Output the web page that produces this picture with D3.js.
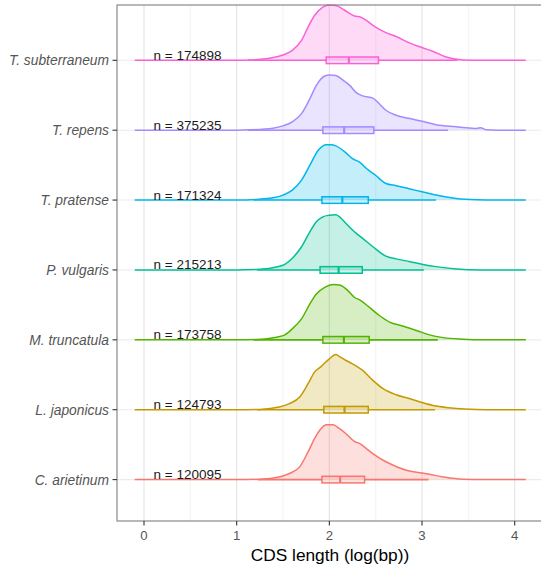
<!DOCTYPE html>
<html><head><meta charset="utf-8">
<script src="https://cdn.jsdelivr.net/npm/d3@7"></script>
<style>body{margin:0;background:#fff;} svg{display:block;}</style>
</head><body>
<div id="chart"></div>
<script>
// ---- data ----
const categories = ["C. arietinum","L. japonicus","M. truncatula","P. vulgaris","T. pratense","T. repens","T. subterraneum"];
const colors = ["#F8766D","#C49A00","#53B400","#00C094","#00B6EB","#A58AFF","#FB61D7"];
const counts = ["120095","124793","173758","215213","171324","375235","174898"];
const xTicks = [0,1,2,3,4];
const xMinor = [0.5,1.5,2.5,3.5];
const densityRange = [-0.1, 4.12];

// density: [log10 length, relative height]
const densCArietinum = [[1.0,0],[1.25,0.006],[1.46,0.048],[1.57,0.11],[1.68,0.23],[1.77,0.50],[1.84,0.74],[1.91,0.92],[1.97,0.99],[2.04,0.99],[2.11,0.92],[2.18,0.83],[2.27,0.69],[2.33,0.65],[2.40,0.56],[2.47,0.47],[2.58,0.35],[2.69,0.26],[2.83,0.17],[3.0,0.12],[3.08,0.096],[3.23,0.048],[3.44,0.006],[3.66,0]];
const densLJaponicus = [[1.0,0],[1.25,0.006],[1.46,0.048],[1.57,0.11],[1.68,0.23],[1.77,0.47],[1.84,0.68],[1.91,0.78],[2.0,0.92],[2.07,1.0],[2.11,0.96],[2.18,0.89],[2.27,0.81],[2.36,0.71],[2.47,0.53],[2.58,0.38],[2.72,0.27],[2.87,0.20],[3.0,0.13],[3.15,0.066],[3.37,0.024],[3.59,0.006],[3.8,0]];
const densMTruncatula = [[1.0,0],[1.21,0.006],[1.43,0.048],[1.52,0.09],[1.6,0.20],[1.7,0.38],[1.79,0.65],[1.86,0.83],[1.95,0.95],[2.04,1.0],[2.11,0.99],[2.2,0.89],[2.27,0.77],[2.34,0.71],[2.43,0.59],[2.54,0.44],[2.65,0.32],[2.79,0.25],[2.94,0.17],[3.08,0.09],[3.23,0.04],[3.44,0.012],[3.66,0]];
const densPVulgaris = [[1.0,0],[1.25,0.012],[1.43,0.054],[1.52,0.10],[1.6,0.21],[1.7,0.42],[1.79,0.69],[1.86,0.87],[1.93,0.96],[2.0,0.99],[2.07,1.0],[2.11,0.96],[2.18,0.84],[2.27,0.69],[2.36,0.57],[2.47,0.42],[2.61,0.25],[2.72,0.20],[2.87,0.15],[3.01,0.10],[3.15,0.06],[3.37,0.018],[3.62,0]];
const densTPratense = [[1.0,0],[1.21,0.012],[1.39,0.04],[1.5,0.09],[1.6,0.18],[1.7,0.36],[1.79,0.63],[1.88,0.90],[1.97,1.0],[2.02,1.0],[2.07,0.98],[2.16,0.88],[2.25,0.75],[2.33,0.68],[2.4,0.57],[2.49,0.46],[2.61,0.30],[2.72,0.26],[2.87,0.20],[3.0,0.15],[3.15,0.09],[3.37,0.03],[3.59,0.006],[3.8,0]];
const densTRepens = [[1.0,0],[1.14,0.006],[1.39,0.036],[1.5,0.078],[1.6,0.15],[1.7,0.30],[1.79,0.57],[1.86,0.81],[1.95,0.98],[2.0,1.0],[2.07,0.99],[2.15,0.90],[2.22,0.81],[2.29,0.68],[2.36,0.62],[2.47,0.58],[2.52,0.51],[2.61,0.36],[2.72,0.27],[2.87,0.21],[3.0,0.16],[3.15,0.10],[3.37,0.06],[3.48,0.042],[3.57,0.03],[3.63,0.042],[3.7,0.006],[3.8,0]];
const densTSubterraneum = [[1.0,0],[1.14,0.005],[1.35,0.036],[1.5,0.096],[1.6,0.18],[1.7,0.36],[1.77,0.60],[1.84,0.81],[1.93,0.96],[2.0,1.0],[2.07,0.99],[2.16,0.91],[2.27,0.80],[2.34,0.78],[2.40,0.72],[2.49,0.61],[2.61,0.50],[2.72,0.43],[2.87,0.31],[3.0,0.23],[3.12,0.16],[3.26,0.06],[3.44,0.006],[3.62,0]];
const densities = [densCArietinum,densLJaponicus,densMTruncatula,densPVulgaris,densTPratense,densTRepens,densTSubterraneum];

// boxplot stats
const whiskerLow  = [1.23,1.22,1.18,1.22,1.18,1.12,1.12];
const q1          = [1.92,1.94,1.93,1.90,1.92,1.93,1.966];
const median      = [2.117,2.164,2.157,2.10,2.14,2.16,2.21];
const q3          = [2.38,2.42,2.43,2.355,2.42,2.48,2.53];
const whiskerHigh = [3.07,3.14,3.17,3.02,3.15,3.28,3.38];

// ---- layout ----
const W = 541, H = 569;
const panel = {left:117, right:546, top:5, bottom:521};
const svg = d3.select("#chart").append("svg").attr("width",W).attr("height",H);

const x = d3.scaleLinear().domain([0,4]).range([144,514.7]);
const y = d3.scalePoint().domain(categories).range([479.6,60.3]);
const ridgeH = d3.scaleLinear().domain([0,1]).range([0,55.3]);

// panel background & grid
svg.append("rect").attr("x",panel.left).attr("y",panel.top)
  .attr("width",panel.right-panel.left).attr("height",panel.bottom-panel.top)
  .attr("fill","#fff");
const grid = svg.append("g");
xMinor.forEach(v=>grid.append("line").attr("x1",x(v)).attr("x2",x(v))
  .attr("y1",panel.top).attr("y2",panel.bottom).attr("stroke","#EBEBEB").attr("stroke-width",0.6));
xTicks.forEach(v=>grid.append("line").attr("x1",x(v)).attr("x2",x(v))
  .attr("y1",panel.top).attr("y2",panel.bottom).attr("stroke","#E3E3E3").attr("stroke-width",1.1));
categories.forEach(c=>grid.append("line").attr("x1",panel.left).attr("x2",panel.right)
  .attr("y1",y(c)).attr("y2",y(c)).attr("stroke","#EBEBEB").attr("stroke-width",1.1));

// ridges
const ridges = svg.append("g");
categories.forEach((c,i)=>{
  const base = y(c);
  const pts = [[densityRange[0],0]].concat(densities[i]).concat([[densityRange[1],0]]);
  const area = d3.area().curve(d3.curveMonotoneX)
    .x(d=>x(d[0])).y0(base).y1(d=>base-ridgeH(d[1]));
  const line = d3.line().curve(d3.curveMonotoneX)
    .x(d=>x(d[0])).y(d=>base-ridgeH(d[1]));
  const g = ridges.append("g");
  g.append("path").attr("d",area(pts)).attr("fill",colors[i]).attr("fill-opacity",0.23);
  g.append("path").attr("d",line(pts)).attr("fill","none").attr("stroke",colors[i]).attr("stroke-width",1.5);
  // whiskers
  g.append("line").attr("x1",x(whiskerLow[i])).attr("x2",x(q1[i])).attr("y1",base).attr("y2",base)
    .attr("stroke",colors[i]).attr("stroke-width",1.6);
  g.append("line").attr("x1",x(q3[i])).attr("x2",x(whiskerHigh[i])).attr("y1",base).attr("y2",base)
    .attr("stroke",colors[i]).attr("stroke-width",1.6);
  // box
  g.append("rect").attr("x",x(q1[i])).attr("y",base-3.3).attr("width",x(q3[i])-x(q1[i])).attr("height",6.6)
    .attr("fill",colors[i]).attr("fill-opacity",0.2).attr("stroke",colors[i]).attr("stroke-width",1.5);
  g.append("line").attr("x1",x(median[i])).attr("x2",x(median[i])).attr("y1",base-3.3).attr("y2",base+3.3)
    .attr("stroke",colors[i]).attr("stroke-width",2.2);
  // n label
  g.append("text").attr("x",153.5).attr("y",base-0.5).text("n = "+counts[i])
    .attr("font-family","Liberation Sans, Arial, sans-serif").attr("font-size",13.5).attr("fill","#1a1a1a");
});

// panel border
svg.append("rect").attr("x",panel.left).attr("y",panel.top)
  .attr("width",panel.right-panel.left).attr("height",panel.bottom-panel.top)
  .attr("fill","none").attr("stroke","#7F7F7F").attr("stroke-width",1.1);

// y axis
const yAxis = svg.append("g");
categories.forEach(c=>{
  yAxis.append("line").attr("x1",panel.left-4.5).attr("x2",panel.left).attr("y1",y(c)).attr("y2",y(c))
    .attr("stroke","#333").attr("stroke-width",1.1);
  yAxis.append("text").attr("x",panel.left-8).attr("y",y(c)).attr("dy","0.36em")
    .attr("text-anchor","end").attr("font-style","italic")
    .attr("font-family","Liberation Sans, Arial, sans-serif").attr("font-size",13.8)
    .attr("fill","#555").text(c);
});

// x axis
const xAxis = svg.append("g");
xTicks.forEach(v=>{
  xAxis.append("line").attr("x1",x(v)).attr("x2",x(v)).attr("y1",panel.bottom).attr("y2",panel.bottom+4.5)
    .attr("stroke","#333").attr("stroke-width",1.1);
  xAxis.append("text").attr("x",x(v)).attr("y",panel.bottom+18.5).attr("text-anchor","middle")
    .attr("font-family","Liberation Sans, Arial, sans-serif").attr("font-size",13.2)
    .attr("fill","#555").text(d3.format("d")(v));
});
svg.append("text").attr("x",330).attr("y",561).attr("text-anchor","middle")
  .attr("font-family","Liberation Sans, Arial, sans-serif").attr("font-size",17.3)
  .attr("fill","#000").text("CDS length (log(bp))");
</script>
</body></html>
